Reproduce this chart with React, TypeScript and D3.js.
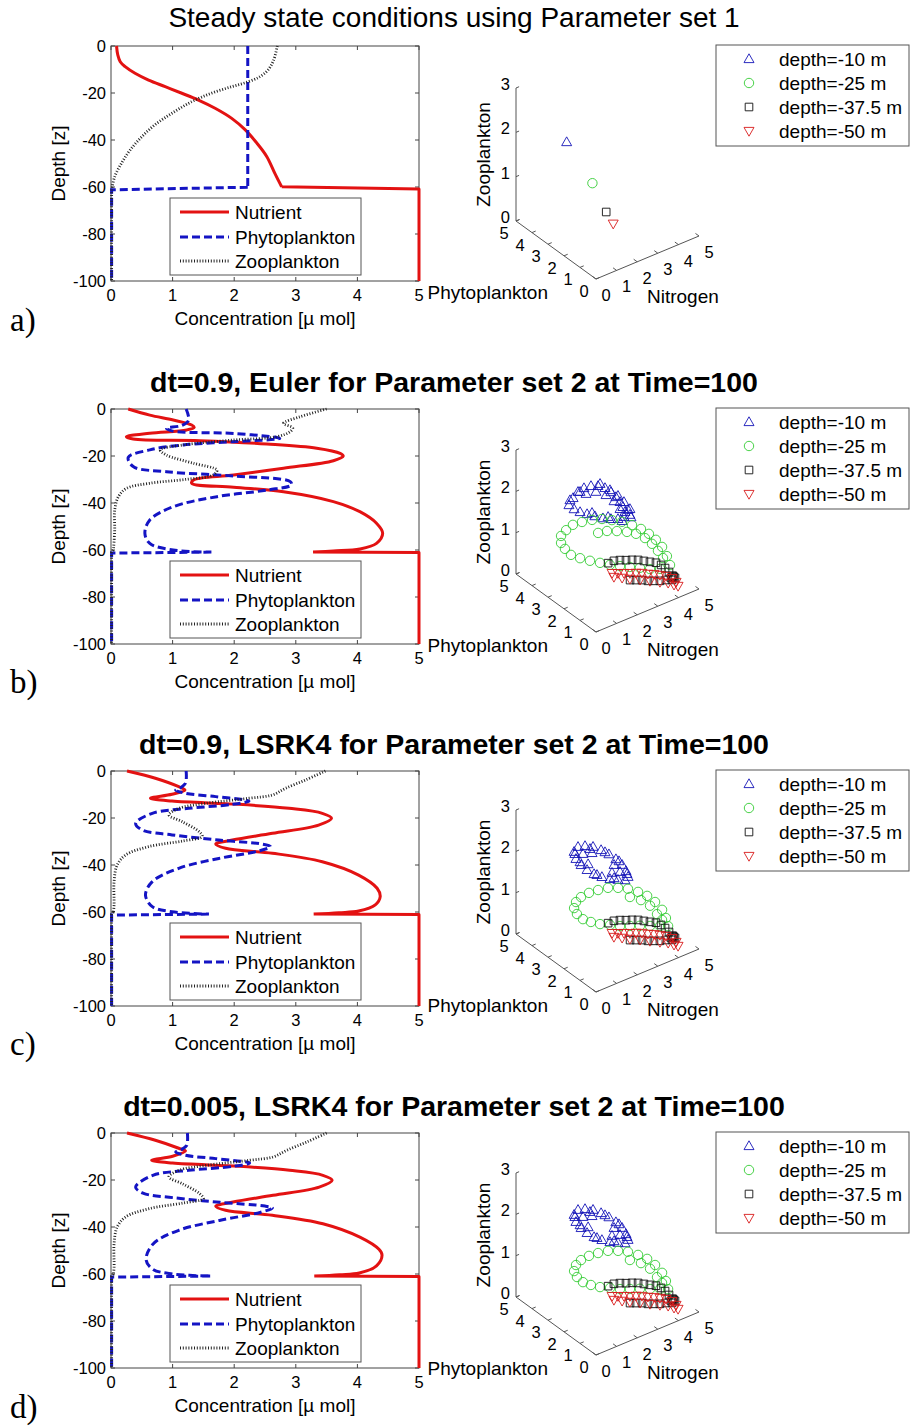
import React from 'react';
import * as d3 from 'd3';

// ---------- Vertical profiles: depth (m) and concentration (µ mol) ----------
// Row a: steady state, parameter set 1
const nutDepthA = [0, -3.8, -6.7, -8.8, -11.6, -14.5, -17.3, -20.1, -23, -26.5, -30.8, -35.7, -41.4, -47.1, -54.2, -59.9, -60.9, -100];
const nutA = [0.09, 0.11, 0.15, 0.23, 0.39, 0.61, 0.88, 1.15, 1.42, 1.69, 1.96, 2.18, 2.37, 2.53, 2.66, 2.77, 5, 5];
const phyDepthA = [0, -60.1, -61.2, -100];
const phyA = [2.22, 2.22, 0.01, 0.01];
const zooDepthA = [0, -6, -10.2, -13, -15.2, -17.3, -20.1, -23.7, -28.6, -33.6, -38.6, -44.3, -49.9, -55.6, -59.9, -61, -100];
const zooA = [2.7, 2.64, 2.55, 2.42, 2.23, 1.96, 1.63, 1.31, 0.99, 0.71, 0.5, 0.31, 0.17, 0.06, 0.02, 0.01, 0.01];

// Row b: dt=0.9, Euler
const nutDepthB = [0, -2.6, -4.7, -6.8, -7.8, -8.9, -10.3, -11.8, -12.8, -13.5, -14.9, -16.7, -18.9, -20, -22, -25.2, -28.1, -30.2, -31.6, -33.3, -35.2, -39.4, -43.7, -48.6, -52.9, -57.2, -59.6, -60.4, -60.9, -61.1, -100];
const nutB = [0.28, 0.63, 1.01, 1.31, 1.35, 1.23, 0.63, 0.25, 0.36, 1.44, 2.53, 3.34, 3.72, 3.77, 3.61, 2.8, 1.99, 1.34, 1.31, 1.99, 2.8, 3.61, 4.04, 4.31, 4.41, 4.31, 4.04, 3.61, 3.28, 5, 5];
const phyDepthB = [0, -4.7, -7, -8.2, -9.4, -10.4, -12.5, -13.9, -15.3, -17.4, -20.6, -24.5, -26.7, -28.5, -30.9, -32.3, -34.5, -37.3, -41.6, -47.2, -52.9, -57.2, -60, -60.9, -61.3, -100];
const phyB = [1.22, 1.26, 1.15, 0.9, 1.0, 1.99, 2.74, 1.99, 1.17, 0.63, 0.28, 0.36, 0.9, 1.99, 2.91, 2.93, 2.53, 1.72, 1.01, 0.63, 0.55, 0.63, 1.01, 1.63, 0.01, 0.01];
const zooDepthB = [0, -3.3, -6.1, -8, -9.6, -11.8, -13.2, -15.3, -17.4, -19.6, -23.1, -26, -28.1, -29.9, -31.6, -33.8, -37.3, -43, -51.5, -60, -61, -100];
const zooB = [3.5, 3.07, 2.8, 2.95, 2.91, 2.69, 1.99, 1.17, 0.8, 0.9, 1.34, 1.72, 1.66, 1.23, 0.63, 0.25, 0.12, 0.06, 0.06, 0.04, 0.01, 0.01];

// Row c: dt=0.9, LSRK4
const nutDepthC = [0, -3.1, -6.7, -8.1, -9.9, -11.6, -12.8, -14.2, -15.9, -18, -20.1, -23, -26.5, -29.4, -31.1, -32.9, -35, -38.6, -44.3, -49.9, -53.5, -57, -59.6, -60.3, -60.9, -61.1, -100];
const nutC = [0.26, 0.72, 1.1, 1.2, 0.99, 0.64, 0.99, 2.07, 2.89, 3.43, 3.58, 3.37, 2.62, 1.97, 1.7, 1.86, 2.62, 3.43, 4.02, 4.32, 4.37, 4.29, 4.02, 3.7, 3.29, 5, 5];
const phyDepthC = [0, -5.2, -7.1, -8.1, -9.5, -10.9, -12.8, -14.2, -15.9, -18, -22.3, -25.1, -27.2, -29.4, -31.1, -32.2, -34, -37.2, -41.4, -47.1, -52.8, -57.7, -59.9, -60.9, -61.3, -100];
const phyC = [1.22, 1.21, 1.13, 1.05, 1.21, 1.7, 2.24, 1.97, 1.26, 0.67, 0.4, 0.51, 0.99, 1.75, 2.45, 2.59, 2.4, 1.75, 1.1, 0.67, 0.56, 0.67, 0.99, 1.59, 0.01, 0.01];
const zooDepthC = [0, -3.8, -7.4, -10.2, -11.6, -13.8, -15.9, -18.7, -21.6, -25.8, -27.9, -29.8, -32.2, -35.7, -40, -47.1, -57, -60, -61, -100];
const zooC = [3.48, 3.16, 2.83, 2.62, 2.24, 1.53, 1.1, 0.94, 1.16, 1.43, 1.48, 1.16, 0.61, 0.24, 0.1, 0.05, 0.05, 0.04, 0.01, 0.01];

// Row d: dt=0.005, LSRK4
const nutDepthD = [0, -3.1, -6.5, -7.7, -9.9, -11.6, -12.8, -14.2, -15.9, -18, -20.1, -23, -26.5, -29.4, -31.2, -32.9, -35, -38.6, -44.3, -49.5, -52, -56.5, -59.6, -60.3, -60.9, -61.1, -100];
const nutD = [0.26, 0.72, 1.1, 1.21, 1.0, 0.66, 1.0, 2.08, 2.9, 3.44, 3.59, 3.38, 2.63, 1.98, 1.7, 1.86, 2.62, 3.44, 4.04, 4.35, 4.4, 4.31, 4.03, 3.71, 3.3, 5, 5];
const phyDepthD = [0, -5.2, -7.1, -8.1, -9.5, -10.9, -12.8, -14.2, -15.9, -18, -23, -25.6, -27.5, -29.5, -31.1, -31.9, -33.8, -37.2, -41.4, -47.3, -54, -58, -60, -60.9, -61.3, -100];
const phyD = [1.24, 1.23, 1.14, 1.05, 1.21, 1.7, 2.25, 1.98, 1.26, 0.68, 0.4, 0.52, 1.0, 1.77, 2.5, 2.62, 2.42, 1.76, 1.1, 0.68, 0.57, 0.68, 1.0, 1.61, 0.01, 0.01];
const zooDepthD = [0, -3.8, -7.4, -10.2, -11.6, -13.8, -15.9, -18.7, -21.6, -25.8, -27.9, -29.8, -32.2, -35.7, -40, -47.1, -57, -60, -61, -100];
const zooD = [3.5, 3.18, 2.85, 2.63, 2.25, 1.54, 1.1, 0.94, 1.16, 1.44, 1.5, 1.17, 0.62, 0.24, 0.1, 0.05, 0.05, 0.04, 0.01, 0.01];

// ---------- State-space points [Nitrogen, Phytoplankton, Zooplankton] ----------
// Steady state (row a), one point per depth
const steadyN = [0.3, 1.55, 2.22, 2.56];
const steadyP = [2.22, 2.22, 2.22, 2.22];
const steadyZ = [2.45, 1.28, 0.5, 0.17];

// Trajectories, row b
const blueB: number[][] = [
  [0.24, 2, 2.46], [0.44, 2, 2.59], [0.68, 2, 2.69], [0.97, 2, 2.72], [1.31, 2, 2.7], [1.65, 2, 2.63],
  [1.99, 2, 2.51], [2.28, 2, 2.35], [2.52, 2, 2.18], [2.72, 2, 2.02], [2.86, 2, 1.87], [2.96, 2, 1.73],
  [2.91, 2, 1.62], [2.62, 2, 1.63], [2.28, 2, 1.7], [1.89, 2, 1.8], [1.5, 2, 1.93], [1.12, 2, 2.06],
  [0.78, 2, 2.18], [0.49, 2, 2.31], [1.07, 2, 2.56], [1.55, 2, 2.51], [2.04, 2, 2.33], [2.43, 2, 2.1],
  [2.72, 2, 1.85], [3.11, 2, 1.75], [3.2, 2, 1.61],
  [0.78, 2, 2.67], [1.75, 2, 2.66], [2.23, 2, 2.41], [2.62, 2, 2.19], [2.91, 2, 1.98], [3.2, 2, 1.75],
  [3.25, 2, 1.54], [2.82, 2, 1.54], [2.14, 2, 1.78], [1.36, 2, 2.04], [0.29, 2, 2.57],
];
const greenB: number[][] = [
  [4.37, 1.0, 0.43], [4.25, 1.04, 0.66], [4.07, 1.11, 0.9], [3.83, 1.19, 1.1], [3.57, 1.29, 1.27], [3.27, 1.4, 1.42],
  [2.93, 1.52, 1.55], [2.55, 1.66, 1.67], [2.17, 1.8, 1.75], [1.79, 1.93, 1.82], [1.41, 2.06, 1.84], [1.03, 2.2, 1.83],
  [0.68, 2.32, 1.8], [0.42, 2.41, 1.7], [0.23, 2.48, 1.58], [0.23, 2.48, 1.41], [0.38, 2.43, 1.25], [0.61, 2.35, 1.08],
  [0.96, 2.23, 0.96], [1.33, 2.09, 0.86], [1.71, 1.95, 0.77], [2.09, 1.82, 0.68], [2.47, 1.68, 0.61], [2.84, 1.54, 0.55],
  [3.22, 1.4, 0.49], [3.6, 1.26, 0.42], [3.99, 1.13, 0.38],
  [1.64, 1.98, 1.5], [1.98, 1.86, 1.51], [2.35, 1.72, 1.47], [2.73, 1.58, 1.41], [3.07, 1.45, 1.33], [3.41, 1.33, 1.19],
  [3.68, 1.24, 1.02], [3.9, 1.15, 0.83], [4.1, 1.09, 0.63],
];
// Trajectories, rows c and d
const blueC: number[][] = [
  [0.49, 2, 2.73], [0.68, 2, 2.81], [1.02, 2, 2.76], [1.41, 2, 2.66], [1.8, 2, 2.5], [2.18, 2, 2.32],
  [2.52, 2, 2.13], [2.82, 2, 1.93], [3.01, 2, 1.74], [3.11, 2, 1.58], [2.96, 2, 1.53], [2.62, 2, 1.61],
  [2.23, 2, 1.71], [1.84, 2, 1.84], [1.46, 2, 1.99], [1.12, 2, 2.16], [0.83, 2, 2.34], [0.58, 2, 2.54],
  [0.92, 2, 2.59], [1.36, 2, 2.52], [2.43, 2, 2.01], [2.72, 2, 1.78], [2.33, 2, 1.84], [1.17, 2, 2.29],
  [1.26, 2, 2.64], [1.99, 2, 2.41], [2.67, 2, 2.05], [3.06, 2, 1.66], [2.43, 2, 1.69], [1.6, 2, 1.94],
  [0.78, 2, 2.42], [0.53, 2, 2.67],
];
const greenC: number[][] = [
  [4.3, 1.03, 0.41], [4.21, 1.05, 0.62], [4.07, 1.11, 0.83], [3.8, 1.2, 1.05], [3.5, 1.31, 1.23], [3.16, 1.44, 1.36],
  [2.77, 1.57, 1.48], [2.4, 1.71, 1.54], [2.02, 1.85, 1.58], [1.64, 1.98, 1.57], [1.29, 2.1, 1.54], [0.99, 2.21, 1.47],
  [0.8, 2.28, 1.37], [0.73, 2.31, 1.23], [0.83, 2.26, 1.08], [1.06, 2.18, 0.93], [1.36, 2.07, 0.83], [1.71, 1.95, 0.74],
  [2.09, 1.81, 0.68], [2.47, 1.68, 0.61], [2.85, 1.55, 0.57], [3.22, 1.4, 0.54], [3.61, 1.27, 0.49], [3.99, 1.13, 0.45],
  [2.85, 1.55, 1.27], [3.27, 1.4, 1.15], [3.61, 1.27, 0.98], [3.87, 1.17, 0.75], [4.06, 1.1, 0.59],
];
// Deeper levels, rows b, c and d
const blackBCD: number[][] = [
  [2.42, 2.36, 0.5], [2.61, 2.24, 0.55], [2.81, 2.12, 0.56], [3.01, 2.0, 0.55], [3.21, 1.88, 0.55], [3.41, 1.76, 0.54],
  [3.6, 1.64, 0.51], [3.8, 1.52, 0.48], [4.0, 1.4, 0.45], [4.17, 1.3, 0.39], [4.3, 1.22, 0.31], [4.43, 1.14, 0.21],
  [4.53, 1.08, 0.11],
  [2.43, 1.0, 0.47], [2.72, 1.0, 0.41], [3.01, 1.0, 0.35], [3.3, 1.0, 0.27], [3.59, 1.0, 0.21], [3.88, 1.0, 0.15],
  [4.17, 1.0, 0.11], [4.42, 1.0, 0.11], [4.51, 1.0, 0.14], [4.61, 1.0, 0.07], [4.47, 1.0, 0.05], [4.56, 1.02, 0.1],
];
const redBCD: number[][] = [
  [2.49, 2.2, 0.29], [2.67, 2.06, 0.29], [2.84, 1.91, 0.3], [3.02, 1.77, 0.3], [3.2, 1.62, 0.31], [3.38, 1.48, 0.31],
  [3.56, 1.34, 0.29], [3.74, 1.19, 0.29], [3.92, 1.05, 0.27], [4.1, 0.9, 0.25], [4.28, 0.76, 0.2], [4.4, 0.66, 0.11],
  [4.45, 0.6, 0.02],
  [2.54, 2.15, 0.2], [2.79, 1.96, 0.18], [3.02, 1.77, 0.16], [3.33, 1.53, 0.14], [3.62, 1.29, 0.12], [3.92, 1.05, 0.1],
  [4.17, 0.86, 0.08], [4.34, 0.71, 0.04],
];

const titles = [
  'Steady state conditions using Parameter set 1',
  'dt=0.9, Euler for Parameter set 2 at Time=100',
  'dt=0.9, LSRK4 for Parameter set 2 at Time=100',
  'dt=0.005, LSRK4 for Parameter set 2 at Time=100',
];
const panelLabels = ['a)', 'b)', 'c)', 'd)'];
const profileLegend = ['Nutrient', 'Phytoplankton', 'Zooplankton'];
const depthLegend = ['depth=-10 m', 'depth=-25 m', 'depth=-37.5 m', 'depth=-50 m'];
const xTicks = [0, 1, 2, 3, 4, 5];
const yTicks = [0, -20, -40, -60, -80, -100];
const zTicks = [0, 1, 2, 3];

const FONT = "'Liberation Sans', Arial, Helvetica, sans-serif";
const SERIF = "'Liberation Serif', 'Times New Roman', serif";
const RED = '#e31212';
const BLUE = '#1414c4';
const MK_BLUE = '#1515b8';
const MK_GREEN = '#33cc33';
const MK_BLACK = '#111';
const MK_RED = '#d81c1c';
const TICK_FS = 16.5;
const LABEL_FS = 19;

const zip = (ds: number[], vs: number[]) => ds.map((d, i) => [d, vs[i]] as [number, number]);

const rows = [
  { top: 46, titleY: 27, bold: false, ox: 596, oy: 279, zH: 133, labelY: 331,
    nut: zip(nutDepthA, nutA), phy: zip(phyDepthA, phyA), zoo: zip(zooDepthA, zooA) },
  { top: 409, titleY: 392, bold: true, ox: 596, oy: 632, zH: 124, labelY: 693,
    nut: zip(nutDepthB, nutB), phy: zip(phyDepthB, phyB), zoo: zip(zooDepthB, zooB) },
  { top: 771, titleY: 754, bold: true, ox: 596, oy: 992, zH: 124, labelY: 1055,
    nut: zip(nutDepthC, nutC), phy: zip(phyDepthC, phyC), zoo: zip(zooDepthC, zooC) },
  { top: 1133, titleY: 1116, bold: true, ox: 596, oy: 1355, zH: 124, labelY: 1418,
    nut: zip(nutDepthD, nutD), phy: zip(phyDepthD, phyD), zoo: zip(zooDepthD, zooD) },
];

const steadySets: number[][][] = [0, 1, 2, 3].map((i) => [[steadyN[i], steadyP[i], steadyZ[i]]]);
const scatterSets: number[][][][] = [
  steadySets,
  [blueB, greenB, blackBCD, redBCD],
  [blueC, greenC, blackBCD, redBCD],
  [blueC, greenC, blackBCD, redBCD],
];

// Split a profile where the mixed layer ends: above it the curve is smooth,
// below it the jump to the bottom boundary value is drawn straight.
function splitProfile(pts: [number, number][]): [[number, number][], [number, number][]] {
  let k = pts.length - 1;
  for (let i = 0; i < pts.length - 1; i++) {
    const [d0, v0] = pts[i];
    const [d1, v1] = pts[i + 1];
    if (d0 < -55 && Math.abs(v1 - v0) > 1 && Math.abs(d1 - d0) < 2) { k = i; break; }
  }
  if (k === pts.length - 1) {
    // no boundary jump: the deep constant tail is straight as well
    const j = pts.findIndex((p) => p[0] <= -60.5);
    k = j > 0 ? j - 1 : pts.length - 1;
  }
  return [pts.slice(0, k + 1), pts.slice(k)];
}

// marker glyphs centred on 0,0
const markerPath = (k: number) => {
  if (k === 0) return 'M0,-5.2L5,3.6L-5,3.6Z';
  if (k === 3) return 'M0,5.2L5,-3.6L-5,-3.6Z';
  if (k === 2) return 'M-3.8,-3.8H3.8V3.8H-3.8Z';
  return '';
};
const markerColor = [MK_BLUE, MK_GREEN, MK_BLACK, MK_RED];

function Marker({ k, x, y }: { k: number; x: number; y: number }) {
  if (k === 1) return <circle cx={x} cy={y} r={4.7} fill="none" stroke={markerColor[k]} strokeWidth={0.9} />;
  return <path d={markerPath(k)} transform={`translate(${x},${y})`} fill="none" stroke={markerColor[k]} strokeWidth={0.9} />;
}

function Profile({ row }: { row: (typeof rows)[number] }) {
  const left = 111, width = 308, height = 235;
  const x = d3.scaleLinear().domain([0, 5]).range([left, left + width]);
  const y = d3.scaleLinear().domain([0, -100]).range([row.top, row.top + height]);
  const smooth = d3
    .line<[number, number]>()
    .x((d) => x(d[1]))
    .y((d) => y(d[0]))
    .curve(d3.curveCatmullRom.alpha(0.5));
  const straight = d3
    .line<[number, number]>()
    .x((d) => x(d[1]))
    .y((d) => y(d[0]));
  const pathOf = (pts: [number, number][]) => {
    const [a, b] = splitProfile(pts);
    return (smooth(a) || '') + (b.length > 1 ? straight(b) || '' : '');
  };
  const bottom = y(-100);
  const lg = { x: 170, y: row.top + 152, w: 191, h: 77 };
  const lgY = [row.top + 166, row.top + 191, row.top + 215];
  return (
    <g>
      <rect x={left} y={row.top} width={width} height={height} fill="#fff" stroke="#444" strokeWidth={1} />
      {xTicks.map((t) => (
        <g key={'x' + t}>
          <line x1={x(t)} x2={x(t)} y1={bottom} y2={bottom - 4} stroke="#444" />
          <line x1={x(t)} x2={x(t)} y1={row.top} y2={row.top + 4} stroke="#444" />
          <text x={x(t)} y={bottom + 20} fontSize={TICK_FS} textAnchor="middle" fontFamily={FONT}>{t}</text>
        </g>
      ))}
      {yTicks.map((t) => (
        <g key={'y' + t}>
          <line x1={left} x2={left + 4} y1={y(t)} y2={y(t)} stroke="#444" />
          <line x1={left + width} x2={left + width - 4} y1={y(t)} y2={y(t)} stroke="#444" />
          <text x={106} y={y(t) + 6} fontSize={TICK_FS} textAnchor="end" fontFamily={FONT}>{t}</text>
        </g>
      ))}
      <path d={pathOf(row.nut)} fill="none" stroke={RED} strokeWidth={3} strokeLinejoin="round" />
      <path d={pathOf(row.phy)} fill="none" stroke={BLUE} strokeWidth={3} strokeDasharray="8 4" />
      <path d={pathOf(row.zoo)} fill="none" stroke="#222" strokeWidth={2.8} strokeDasharray="1 1.8" />
      <text x={x(2.5)} y={bottom + 44} fontSize={LABEL_FS} textAnchor="middle" fontFamily={FONT}>Concentration [µ mol]</text>
      <text transform={`translate(65,${(row.top + bottom) / 2}) rotate(-90)`} fontSize={LABEL_FS} textAnchor="middle" fontFamily={FONT}>Depth [z]</text>
      <rect x={lg.x} y={lg.y} width={lg.w} height={lg.h} fill="#fff" stroke="#555" strokeWidth={1} />
      <line x1={180} x2={229} y1={lgY[0]} y2={lgY[0]} stroke={RED} strokeWidth={3} />
      <line x1={180} x2={229} y1={lgY[1]} y2={lgY[1]} stroke={BLUE} strokeWidth={3} strokeDasharray="8 4" />
      <line x1={180} x2={229} y1={lgY[2]} y2={lgY[2]} stroke="#222" strokeWidth={2.8} strokeDasharray="1 1.8" />
      {profileLegend.map((t, i) => (
        <text key={t} x={235} y={lgY[i] + 7} fontSize={LABEL_FS} fontFamily={FONT}>{t}</text>
      ))}
    </g>
  );
}

function StateSpace({ row, sets }: { row: (typeof rows)[number]; sets: number[][][] }) {
  const nX = d3.scaleLinear().domain([0, 5]).range([0, 103]);
  const nY = d3.scaleLinear().domain([0, 5]).range([0, -43]);
  const pX = d3.scaleLinear().domain([0, 5]).range([0, -80]);
  const pY = d3.scaleLinear().domain([0, 5]).range([0, -58]);
  const zY = d3.scaleLinear().domain([0, 3]).range([0, -row.zH]);
  const proj = (n: number, p: number, z: number): [number, number] => [
    row.ox + nX(n) + pX(p),
    row.oy + nY(n) + pY(p) + zY(z),
  ];
  const corner = proj(0, 5, 0);
  const origin = proj(0, 0, 0);
  const nEnd = proj(5, 0, 0);
  const zTop = proj(0, 5, 3);
  const ax = '#555';
  const lgTop = row.top - 1;
  return (
    <g>
      <line x1={corner[0]} y1={corner[1]} x2={zTop[0]} y2={zTop[1]} stroke={ax} strokeWidth={1} />
      <line x1={corner[0]} y1={corner[1]} x2={origin[0]} y2={origin[1]} stroke={ax} strokeWidth={1} />
      <line x1={origin[0]} y1={origin[1]} x2={nEnd[0]} y2={nEnd[1]} stroke={ax} strokeWidth={1} />
      {zTicks.map((t) => {
        const [px, py] = proj(0, 5, t);
        const [qx, qy] = proj(0.15, 5, t);
        return (
          <g key={'z' + t}>
            <line x1={px} y1={py} x2={qx} y2={qy} stroke={ax} />
            <text x={px - 6} y={py + 2} fontSize={TICK_FS} textAnchor="end" fontFamily={FONT}>{t}</text>
          </g>
        );
      })}
      {xTicks.map((t) => {
        const [px, py] = proj(0, t, 0);
        const [qx, qy] = proj(0.18, t, 0);
        return (
          <g key={'p' + t}>
            <line x1={px} y1={py} x2={qx} y2={qy} stroke={ax} />
            <text x={px - 12} y={py + 18} fontSize={TICK_FS} textAnchor="middle" fontFamily={FONT}>{t}</text>
          </g>
        );
      })}
      {xTicks.map((t) => {
        const [px, py] = proj(t, 0, 0);
        const [qx, qy] = proj(t, 0.22, 0);
        return (
          <g key={'n' + t}>
            <line x1={px} y1={py} x2={qx} y2={qy} stroke={ax} />
            <text x={px + 10} y={py + 22} fontSize={TICK_FS} textAnchor="middle" fontFamily={FONT}>{t}</text>
          </g>
        );
      })}
      <text x={548} y={origin[1] + 20} fontSize={LABEL_FS} textAnchor="end" fontFamily={FONT}>Phytoplankton</text>
      <text x={647} y={origin[1] + 24} fontSize={LABEL_FS} fontFamily={FONT}>Nitrogen</text>
      <text transform={`translate(490,${(corner[1] + zTop[1]) / 2}) rotate(-90)`} fontSize={LABEL_FS} textAnchor="middle" fontFamily={FONT}>Zooplankton</text>
      {sets.map((pts, k) => (
        <g key={'s' + k}>
          {pts.map((d, i) => {
            const [sx, sy] = proj(d[0], d[1], d[2]);
            return <Marker key={i} k={k} x={sx} y={sy} />;
          })}
        </g>
      ))}
      <rect x={716} y={lgTop} width={193} height={101} fill="#fff" stroke="#555" strokeWidth={1} />
      {depthLegend.map((t, k) => (
        <g key={t}>
          <Marker k={k} x={749} y={lgTop + 14 + k * 24} />
          <text x={779} y={lgTop + 21 + k * 24} fontSize={LABEL_FS} fontFamily={FONT}>{t}</text>
        </g>
      ))}
    </g>
  );
}

export default function App() {
  return (
    <svg width={910} height={1426} viewBox="0 0 910 1426" style={{ position: 'absolute', left: 0, top: 0, background: '#fff' }}>
      <rect width={910} height={1426} fill="#fff" />
      {rows.map((row, i) => (
        <g key={i}>
          <text x={454} y={row.titleY} fontSize={row.bold ? 28.5 : 28} fontWeight={row.bold ? 'bold' : 'normal'} textAnchor="middle" fontFamily={FONT}>
            {titles[i]}
          </text>
          <Profile row={row} />
          <StateSpace row={row} sets={scatterSets[i]} />
          <text x={10} y={row.labelY} fontSize={33} fontFamily={SERIF}>{panelLabels[i]}</text>
        </g>
      ))}
    </svg>
  );
}
